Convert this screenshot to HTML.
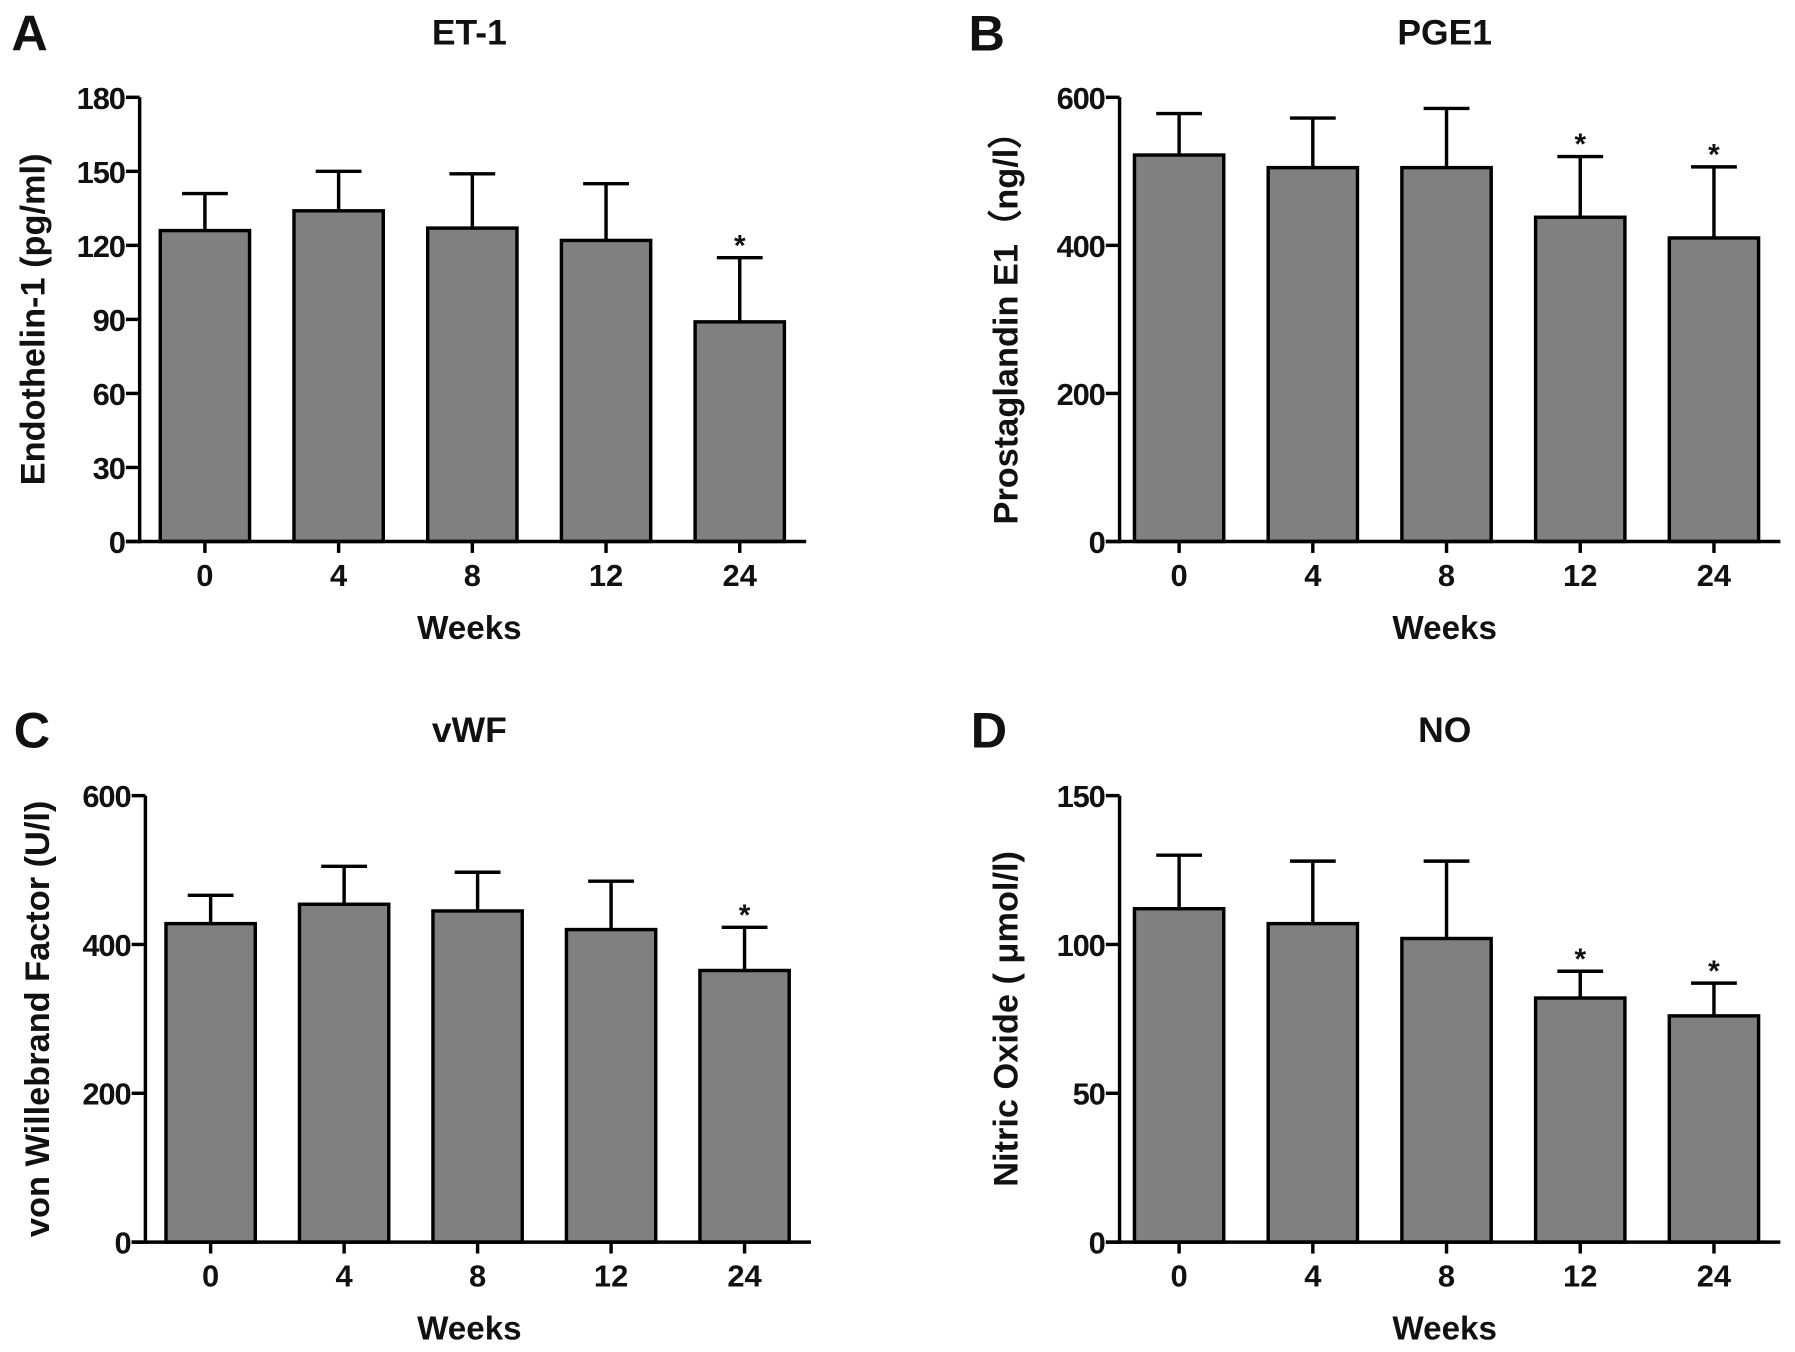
<!DOCTYPE html>
<html><head><meta charset="utf-8"><style>
html,body{margin:0;padding:0;background:#fff}
svg{display:block}
text{font-family:"Liberation Sans",Arial,sans-serif;font-weight:bold;fill:#111}
</style></head><body>
<svg id="fig" width="1795" height="1352" viewBox="0 0 1568 1181" preserveAspectRatio="none" xmlns="http://www.w3.org/2000/svg"></svg>
<script>
const categories = ["0","4","8","12","24"];
const et1Values = [126,134,127,122,89];
const et1Errors = [15,16,22,23,26];
const et1Sig = [0,0,0,0,1];
const et1Ticks = [0,30,60,90,120,150,180];
const pge1Values = [522,505,505,438,410];
const pge1Errors = [56,67,80,82,96];
const pge1Sig = [0,0,0,1,1];
const pge1Ticks = [0,200,400,600];
const vwfValues = [428,454,445,420,365];
const vwfErrors = [38,51,52,65,58];
const vwfSig = [0,0,0,0,1];
const vwfTicks = [0,200,400,600];
const noValues = [112,107,102,82,76];
const noErrors = [18,21,26,9,11];
const noSig = [0,0,0,1,1];
const noTicks = [0,50,100,150];

const NS = "http://www.w3.org/2000/svg";
const svg = document.getElementById('fig');
function mk(tag, attrs, parent, txt){
  const e = document.createElementNS(NS, tag);
  for (const k in attrs) e.setAttribute(k, attrs[k]);
  if (txt !== undefined) e.textContent = txt;
  (parent || svg).appendChild(e);
  return e;
}
function panel(cfg){
  const g = mk('g', {});
  
  
  const yMax = cfg.ticks[cfg.ticks.length-1];
  const y = v => cfg.bottom - (v / yMax) * (cfg.bottom - cfg.top);
  const x = i => cfg.x0 + i * cfg.step;
  const letter = mk('text', {x: cfg.letterX, y: cfg.titleY + 16, 'font-size': 44}, g, cfg.letter);
  
  
  const title = mk('text', {x: cfg.titleX, y: cfg.titleY + 11, 'font-size': 31, 'text-anchor': 'middle'}, g, cfg.title);
  
  
  cfg.values.forEach((v, i) => {
    const cx = x(i);
    const top = y(v + cfg.errors[i]);
    const el = mk('line', {x1: cx, x2: cx, y1: y(v), y2: top, stroke: '#000', 'stroke-width': 3}, g);
    
    
    const cap = mk('line', {x1: cx - 20, x2: cx + 20, y1: top, y2: top, stroke: '#000', 'stroke-width': 3}, g);
    
    
    const r = mk('rect', {x: cx - cfg.bw/2, y: y(v), width: cfg.bw, height: cfg.bottom - y(v), fill: '#808080', stroke: '#000', 'stroke-width': 3}, g);
    
    
    if (cfg.sig[i]) {
      const s = mk('text', {x: cx, y: top - 2, 'font-size': 26, 'text-anchor': 'middle'}, g, '*');
      
      
    }
    const tk = mk('line', {x1: cx, x2: cx, y1: cfg.bottom, y2: cfg.bottom + 10, stroke: '#000', 'stroke-width': 3}, g);
    
    
    const tl = mk('text', {x: cx, y: cfg.bottom + 39, 'font-size': 27, 'text-anchor': 'middle'}, g, categories[i]);
    
    
  });
  const ya = mk('line', {x1: cfg.axisX, x2: cfg.axisX, y1: cfg.top, y2: cfg.bottom + 1.5, stroke: '#000', 'stroke-width': 3}, g);
  
  
  const xa = mk('line', {x1: cfg.axisX - 12, x2: x(4) + 58, y1: cfg.bottom, y2: cfg.bottom, stroke: '#000', 'stroke-width': 3}, g);
  
  
  cfg.ticks.forEach(t => {
    const tk = mk('line', {x1: cfg.axisX - 12, x2: cfg.axisX, y1: y(t), y2: y(t), stroke: '#000', 'stroke-width': 3}, g);
    
    
    const tl = mk('text', {x: cfg.axisX - 13, y: y(t) + 10, 'font-size': 27, 'text-anchor': 'end', 'letter-spacing': '-1'}, g, String(t));
    
    
  });
  const xt = mk('text', {x: cfg.titleX, y: cfg.bottom + 85, 'font-size': 29, 'text-anchor': 'middle'}, g, 'Weeks');
  
  
  const cy = (cfg.top + cfg.bottom) / 2;
  const yt = mk('text', {x: cfg.ylabX, y: cy, 'font-size': 30, 'text-anchor': 'middle', transform: `rotate(-90 ${cfg.ylabX} ${cy})`}, g, cfg.ylab);
  
  
}
panel({name:'panel-a-et1', letter:'A', letterX:10, title:'ET-1', titleX:410, titleY:28, axisX:122, top:85, bottom:473, x0:179, step:116.8, bw:78,
  values:et1Values, errors:et1Errors, sig:et1Sig, ticks:et1Ticks, ylab:'Endothelin-1 (pg/ml)', ylabX:39});
panel({name:'panel-b-pge1', letter:'B', letterX:846, title:'PGE1', titleX:1262, titleY:28, axisX:978, top:85, bottom:473, x0:1030, step:116.8, bw:78,
  values:pge1Values, errors:pge1Errors, sig:pge1Sig, ticks:pge1Ticks, ylab:'Prostaglandin E1\uFF08ng/l\uFF09', ylabX:889});
panel({name:'panel-c-vwf', letter:'C', letterX:12, title:'vWF', titleX:410, titleY:637, axisX:127, top:695, bottom:1085, x0:184, step:116.6, bw:78,
  values:vwfValues, errors:vwfErrors, sig:vwfSig, ticks:vwfTicks, ylab:'von Willebrand Factor (U/l)', ylabX:43});
panel({name:'panel-d-no', letter:'D', letterX:848, title:'NO', titleX:1262, titleY:637, axisX:978, top:695, bottom:1085, x0:1030, step:116.8, bw:78,
  values:noValues, errors:noErrors, sig:noSig, ticks:noTicks, ylab:'Nitric Oxide ( \u03BCmol/l)', ylabX:889});
</script>
</body></html>
